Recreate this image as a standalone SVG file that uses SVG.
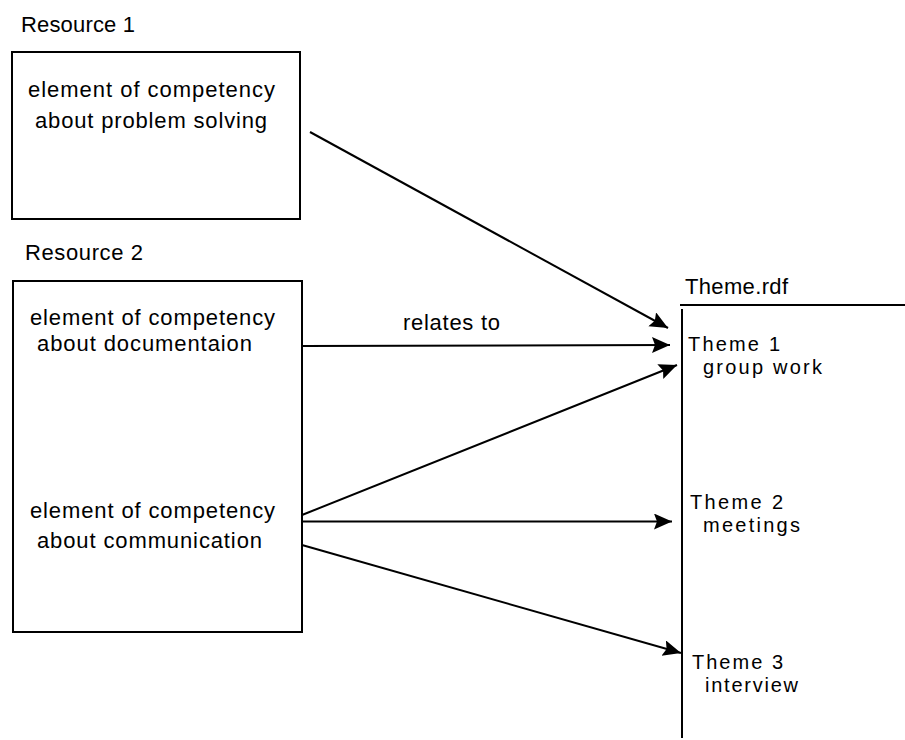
<svg xmlns="http://www.w3.org/2000/svg" width="905" height="740" viewBox="0 0 905 740">
<defs>
<style>
text{font-family:"Liberation Sans",Arial,sans-serif;font-size:22px;fill:#000}
text.th{font-size:20px}
.box{fill:none;stroke:#000;stroke-width:2}
.conn{stroke:#000;stroke-width:2;fill:none}
</style>
<marker id="ah" markerUnits="userSpaceOnUse" markerWidth="22" markerHeight="20" refX="18" refY="8" orient="auto">
<path d="M0,0 L18,8 L0,16 L3,8 z" fill="#000"/>
</marker>
</defs>
<rect width="905" height="740" fill="#fff"/>
<g id="resource1">
<text x="21" y="32" textLength="114" lengthAdjust="spacing">Resource 1</text>
<rect class="box" x="12" y="52" width="288" height="167"/>
<text x="28" y="97" textLength="247" lengthAdjust="spacing">element of competency</text>
<text x="35" y="128" textLength="232" lengthAdjust="spacing">about problem solving</text>
</g>
<g id="resource2">
<text x="25" y="260" textLength="118" lengthAdjust="spacing">Resource 2</text>
<rect class="box" x="13" y="281" width="289" height="351"/>
<text x="30" y="325" textLength="245" lengthAdjust="spacing">element of competency</text>
<text x="37" y="351" textLength="215" lengthAdjust="spacing">about documentaion</text>
<text x="30" y="518" textLength="245" lengthAdjust="spacing">element of competency</text>
<text x="37" y="548" textLength="225" lengthAdjust="spacing">about communication</text>
</g>
<g id="theme">
<text x="685" y="294" textLength="103" lengthAdjust="spacing">Theme.rdf</text>
<line class="conn" x1="680" y1="305" x2="905" y2="305"/>
<line class="conn" x1="682" y1="309" x2="682" y2="738"/>
<text class="th" x="688" y="351" textLength="92" lengthAdjust="spacing">Theme 1</text>
<text class="th" x="703" y="374" textLength="119" lengthAdjust="spacing">group work</text>
<text class="th" x="690" y="509" textLength="93" lengthAdjust="spacing">Theme 2</text>
<text class="th" x="703" y="532" textLength="97" lengthAdjust="spacing">meetings</text>
<text class="th" x="692" y="669" textLength="91" lengthAdjust="spacing">Theme 3</text>
<text class="th" x="705" y="692" textLength="93" lengthAdjust="spacing">interview</text>
</g>
<g id="connectors">
<line class="conn" x1="310" y1="132" x2="668" y2="328" marker-end="url(#ah)"/>
<line class="conn" x1="303" y1="346" x2="670" y2="345" marker-end="url(#ah)"/>
<text x="403" y="330" textLength="97" lengthAdjust="spacing">relates to</text>
<line class="conn" x1="302" y1="515" x2="677" y2="365" marker-end="url(#ah)"/>
<line class="conn" x1="302" y1="521.5" x2="672" y2="521.5" marker-end="url(#ah)"/>
<line class="conn" x1="302" y1="545" x2="681" y2="653" marker-end="url(#ah)"/>
</g>
</svg>
